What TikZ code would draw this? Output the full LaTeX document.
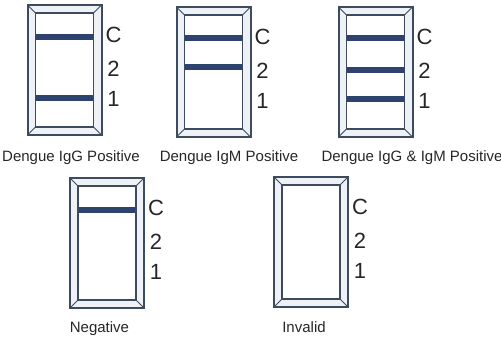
\documentclass[tikz,border=0pt]{standalone}
\usepackage{fontspec}
\setmainfont{Liberation Sans}
\definecolor{marco}{HTML}{3D4B5F}
\definecolor{bisel}{HTML}{EEF1F6}
\definecolor{banda}{HTML}{2D426E}
\begin{document}
\begin{tikzpicture}[x=1pt,y=-1pt,
  linea/.style={fill=banda},
  marca/.style={font=\fontsize{22}{26}\selectfont, text=black!85},
  pie/.style={font=\fontsize{15}{18}\selectfont, anchor=base, text=black!85}]
\useasboundingbox (0,0) rectangle (501,339);
% Tiras
\foreach \x/\y/\n in {27.5/5/a,176.5/7/b,338.5/7/c,70/178/d,274/177/e}{
  \coordinate (t-\n) at (\x,\y);
  \filldraw[fill=bisel, draw=marco, line width=2pt] (\x,\y) rectangle ++(74,130);
  \fill[white] (\x+8,\y+8) rectangle (\x+66,\y+122);
  % Bisel
  \draw[marco, line width=0.8pt] (\x,\y) -- (\x+8,\y+8) (\x+74,\y) -- (\x+66,\y+8)
    (\x,\y+130) -- (\x+8,\y+122) (\x+74,\y+130) -- (\x+66,\y+122);
  % Marcas C, 2, 1
  \node[marca] (C-\n) at (\x+86,\y+30) {C};
  \node[marca] (dos-\n) at (\x+86,\y+64) {2};
  \node[marca] (uno-\n) at (\x+86,\y+94) {1};
}
% Bandas
\fill[linea, shift={(t-a)}] (8,29) rectangle (66,35);
\fill[linea, shift={(t-a)}] (8,90) rectangle (66,96);
\fill[linea, shift={(t-b)}] (8,28) rectangle (66,34);
\fill[linea, shift={(t-b)}] (8,57) rectangle (66,63);
\fill[linea, shift={(t-c)}] (8,28) rectangle (66,34);
\fill[linea, shift={(t-c)}] (8,60) rectangle (66,66);
\fill[linea, shift={(t-c)}] (8,89) rectangle (66,95);
\fill[linea, shift={(t-d)}] (8,29) rectangle (66,35);
% Ventana interior
\foreach \n in {a,b,c,d,e}
  \draw[marco, line width=1.5pt, shift={(t-\n)}] (8,8) rectangle (66,122);
% Resultados
\node[pie] (pie-a) at (71,161.7) {Dengue IgG Positive};
\node[pie] (pie-b) at (229,161.7) {Dengue IgM Positive};
\node[pie] (pie-c) at (412,161.7) {Dengue IgG \& IgM Positive};
\node[pie] (pie-d) at (99.5,332) {Negative};
\node[pie] (pie-e) at (304,332) {Invalid};
\end{tikzpicture}
\end{document}
